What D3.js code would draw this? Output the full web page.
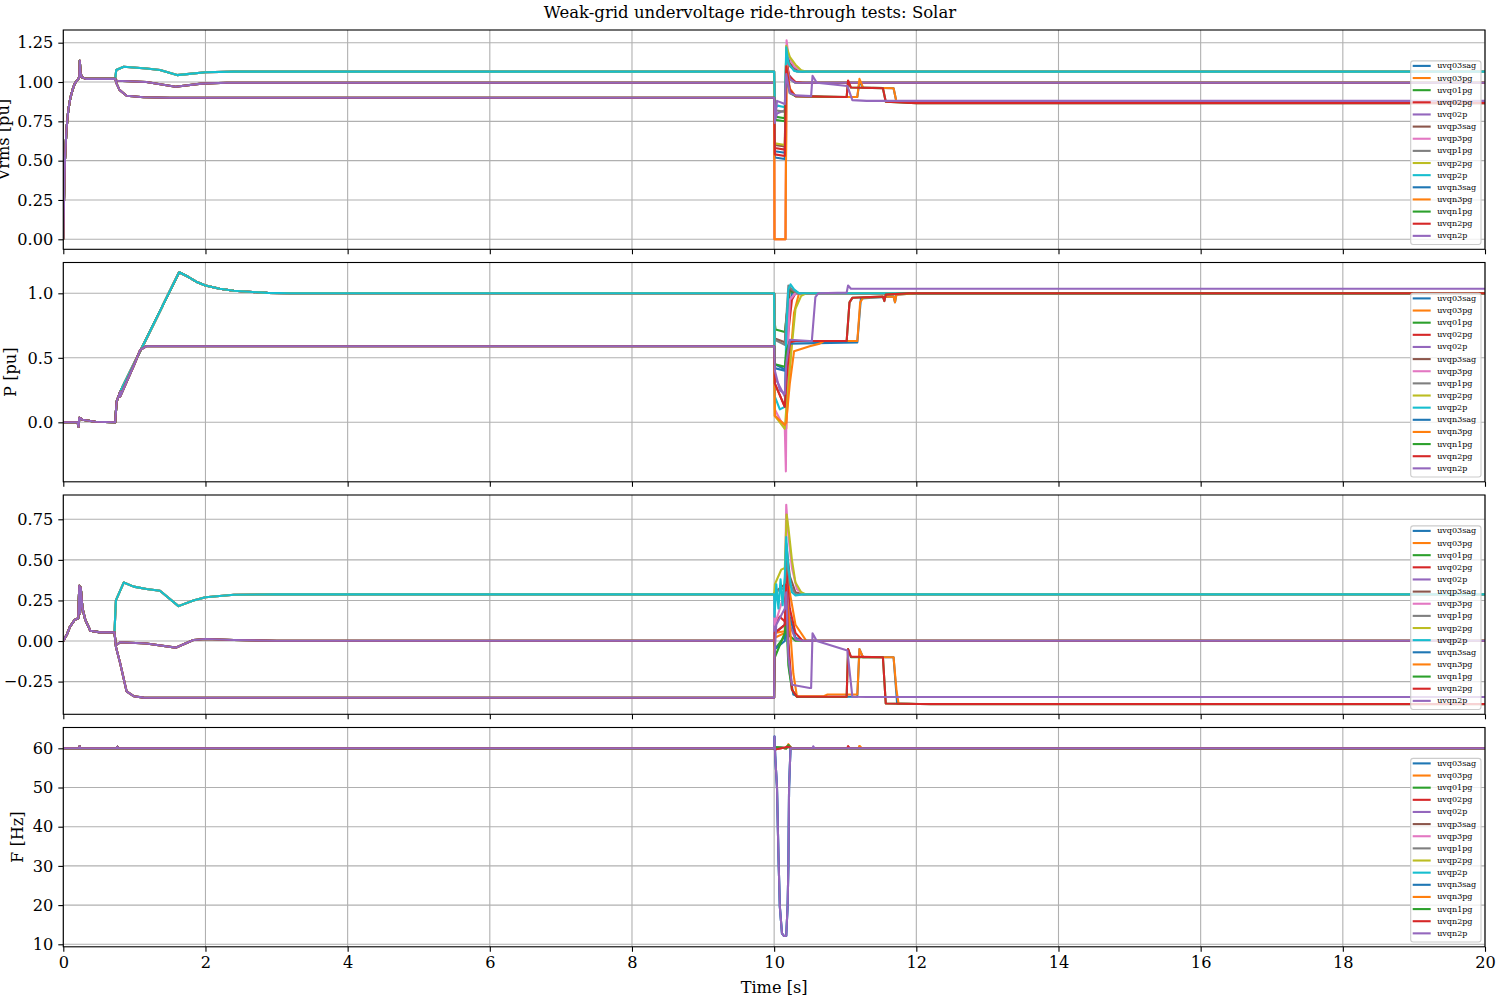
<!DOCTYPE html>
<html><head><meta charset="utf-8">
<script src="https://cdn.jsdelivr.net/npm/d3@7"></script>
<style>
body{margin:0;background:#fff;}
text{font-family:"DejaVu Serif",serif;fill:#000;}
</style>
</head><body>
<svg id="chart" width="1500" height="1000"></svg>
<script>
// ---------------- DATA ----------------
const titleText = "Weak-grid undervoltage ride-through tests: Solar";
const xLabel = "Time [s]";
const yLabels = ["Vrms [pu]", "P [pu]", "", "F [Hz]"];
const seriesNames = ["uvq03sag","uvq03pg","uvq01pg","uvq02pg","uvq02p",
                     "uvqp3sag","uvqp3pg","uvqp1pg","uvqp2pg","uvqp2p",
                     "uvqn3sag","uvqn3pg","uvqn1pg","uvqn2pg","uvqn2p"];
const seriesGroup = [0,0,0,0,0,1,1,1,1,1,2,2,2,2,2];
const xTicks = [0,2,4,6,8,10,12,14,16,18,20];
const vTicks = [0,0.25,0.5,0.75,1.0,1.25];
const pTicks = [0,0.5,1.0];
const qTicks = [-0.25,0,0.25,0.5,0.75];
const fTicks = [10,20,30,40,50,60];

// Vrms [pu] : startup (common), group startup, fault events (t, value)
const vStartCommon = [[0,0],[0.01,0.25],[0.023,0.5],[0.045,0.7],[0.07,0.82],[0.1,0.9],[0.13,0.95],[0.16,0.99],[0.21,1.02],[0.225,1.03],[0.232,1.135],[0.242,1.06],[0.26,1.03],[0.32,1.02],[0.73,1.02]];
const vStartQ0 = [[0.75,1.008],[1.17,1.0],[1.58,0.97],[1.94,0.99],[2.3,0.995]];
const vStartQP = [[0.745,1.076],[0.85,1.097],[1.17,1.086],[1.36,1.076],[1.6,1.044],[1.74,1.05],[2.0,1.062],[2.4,1.066]];
const vStartQN = [[0.75,0.99],[0.79,0.95],[0.89,0.913],[1.13,0.903],[1.5,0.9]];
const vEv0  = [[10,0.995],[10.01,0.56],[10.15,0.55],[10.17,1.12],[10.2,1.05],[10.28,1.0],[10.4,0.995]];
const vEv1  = [[10,0.995],[10.005,0],[10.16,0],[10.175,1.15],[10.2,1.05],[10.23,1.02],[10.3,1.0],[10.45,0.995]];
const vEv2  = [[10,0.995],[10.01,0.78],[10.15,0.77],[10.17,1.1],[10.22,1.02],[10.3,0.995]];
const vEv3  = [[10,0.995],[10.01,0.58],[10.15,0.57],[10.17,1.15],[10.21,1.04],[10.3,1.0],[10.4,0.995]];
const vEv4  = [[10,0.995],[10.01,0.75],[10.04,0.8],[10.15,0.82],[10.17,1.12],[10.22,1.02],[10.3,0.995]];
const vEv5  = [[10,1.066],[10.01,0.6],[10.15,0.59],[10.17,1.2],[10.22,1.12],[10.3,1.08],[10.4,1.066]];
const vEv6  = [[10,1.066],[10.005,0],[10.16,0],[10.175,1.265],[10.2,1.17],[10.28,1.1],[10.4,1.066]];
const vEv7  = [[10,1.066],[10.01,0.82],[10.15,0.81],[10.17,1.18],[10.22,1.1],[10.32,1.066]];
const vEv8  = [[10,1.066],[10.01,0.61],[10.15,0.6],[10.17,1.23],[10.22,1.16],[10.3,1.11],[10.38,1.075],[10.45,1.066]];
const vEv9  = [[10,1.066],[10.01,0.83],[10.05,0.85],[10.15,0.84],[10.17,1.22],[10.2,1.12],[10.28,1.07],[10.35,1.066]];
const vEv10 = [[10,0.9],[10.01,0.52],[10.15,0.51],[10.17,1.08],[10.22,0.95],[10.3,0.91],[10.7,0.905],[11.17,0.905],[11.2,1.0],[11.25,0.965],[11.68,0.96],[11.72,0.875],[12.0,0.868]];
const vEv11 = [[10,0.9],[10.005,0],[10.16,0],[10.175,1.1],[10.22,0.96],[10.3,0.91],[10.7,0.905],[11.17,0.905],[11.2,1.02],[11.25,0.965],[11.68,0.96],[11.72,0.875],[12.2,0.868]];
const vEv12 = [[10,0.9],[10.01,0.76],[10.15,0.75],[10.17,1.05],[10.22,0.93],[10.3,0.91],[11.02,0.905],[11.04,1.0],[11.08,0.965],[11.53,0.96],[11.57,0.875],[12.0,0.866]];
const vEv13 = [[10,0.9],[10.01,0.54],[10.15,0.53],[10.17,1.1],[10.22,0.95],[10.3,0.91],[11.02,0.905],[11.04,1.01],[11.08,0.965],[11.53,0.96],[11.57,0.875],[12.0,0.866]];
const vEv14 = [[10,0.9],[10.01,0.74],[10.04,0.88],[10.15,0.86],[10.17,1.05],[10.22,0.93],[10.3,0.915],[10.52,0.91],[10.54,1.04],[10.6,0.995],[11.03,0.975],[11.1,0.885],[11.3,0.88]];

// P [pu]
const pStartCommon = [[0,0],[0.2,0],[0.215,-0.035],[0.225,0.036],[0.27,0.02],[0.45,0.005],[0.73,0.0],[0.75,0.16],[0.8,0.237]];
const pStartQ0 = [[1.63,1.163],[1.75,1.13],[1.87,1.09],[2.0,1.06],[2.2,1.035],[2.4,1.02],[2.87,1.003],[3.2,1.0]];
const pStartQP = [[1.63,1.163],[1.75,1.13],[1.87,1.09],[2.0,1.06],[2.2,1.035],[2.4,1.02],[2.87,1.003],[3.2,1.0]];
const pStartQN = [[0.8,0.2],[1.0,0.45],[1.08,0.56],[1.17,0.59],[1.5,0.59]];
const pEv0  = [[10,1],[10.01,0.45],[10.15,0.41],[10.17,0.5],[10.22,0.9],[10.26,1.03],[10.35,1.0]];
const pEv1  = [[10,1],[10.01,0.05],[10.15,-0.02],[10.17,-0.05],[10.2,0.3],[10.28,0.85],[10.35,1.0]];
const pEv2  = [[10,1],[10.005,0.78],[10.02,0.72],[10.15,0.7],[10.17,0.8],[10.22,1.02],[10.3,1.0]];
const pEv3  = [[10,1],[10.01,0.3],[10.15,0.12],[10.17,0.4],[10.2,0.7],[10.25,0.95],[10.3,1.0]];
const pEv4  = [[10,1],[10.01,0.35],[10.15,0.2],[10.17,0.5],[10.22,0.95],[10.3,1.0]];
const pEv5  = [[10,1],[10.01,0.65],[10.15,0.62],[10.17,0.8],[10.22,1.04],[10.3,1.0]];
const pEv6  = [[10,1],[10.01,0.1],[10.15,-0.05],[10.165,-0.38],[10.175,0.3],[10.22,0.95],[10.3,1.0]];
const pEv7  = [[10,1],[10.01,0.64],[10.15,0.6],[10.17,0.8],[10.2,1.06],[10.25,1.03],[10.33,1.0]];
const pEv8  = [[10,1],[10.01,0.05],[10.15,-0.05],[10.17,0.1],[10.25,0.6],[10.3,0.88],[10.38,0.98],[10.45,1.0]];
const pEv9  = [[10,1],[10.01,0.2],[10.08,0.1],[10.15,0.12],[10.17,0.7],[10.2,1.03],[10.23,1.07],[10.28,1.03],[10.35,1.0]];
const pEv10 = [[10,0.59],[10.01,0.42],[10.15,0.4],[10.17,0.5],[10.22,0.61],[11.17,0.62],[11.22,0.96],[11.68,0.975],[11.7,0.93],[11.72,0.99],[12.0,1.0]];
const pEv11 = [[10,0.59],[10.01,0.05],[10.15,-0.02],[10.17,0.0],[10.22,0.3],[10.28,0.55],[10.5,0.59],[10.64,0.61],[10.7,0.63],[11.17,0.63],[11.21,0.93],[11.25,0.965],[11.68,0.975],[11.7,0.93],[11.72,0.99],[12.0,1.0]];
const pEv12 = [[10,0.59],[10.01,0.45],[10.15,0.43],[10.17,0.55],[10.22,0.63],[11.02,0.63],[11.06,0.93],[11.1,0.965],[11.53,0.975],[11.55,0.94],[11.57,0.99],[11.9,1.0]];
const pEv13 = [[10,0.59],[10.01,0.3],[10.15,0.12],[10.17,0.3],[10.22,0.62],[10.3,0.63],[11.02,0.63],[11.06,0.93],[11.1,0.965],[11.53,0.975],[11.55,0.94],[11.57,0.99],[11.9,1.0]];
const pEv14 = [[10,0.59],[10.01,0.4],[10.08,0.25],[10.15,0.22],[10.17,0.45],[10.22,0.64],[10.5,0.63],[10.53,0.63],[10.58,0.97],[10.62,1.0],[11.02,1.005],[11.04,1.06],[11.08,1.035],[11.3,1.035]];

// Q [pu]
const qStartCommon = [[0,0],[0.05,0.04],[0.094,0.088],[0.16,0.13],[0.21,0.14],[0.225,0.34],[0.235,0.17],[0.245,0.33],[0.27,0.2],[0.31,0.13],[0.38,0.063],[0.52,0.053],[0.72,0.053]];
const qStartQ0 = [[0.74,-0.025],[0.8,-0.008],[1.17,-0.015],[1.58,-0.041],[1.83,0.006],[2.0,0.012],[2.4,0.006],[3.0,0.002]];
const qStartQP = [[0.74,0.25],[0.85,0.36],[0.99,0.335],[1.17,0.32],[1.36,0.31],[1.62,0.215],[1.83,0.25],[2.0,0.27],[2.4,0.285],[3.0,0.2875]];
const qStartQN = [[0.74,-0.035],[0.8,-0.137],[0.89,-0.31],[0.99,-0.34],[1.13,-0.349],[1.5,-0.35]];
const qEv0  = [[10,0.002],[10.01,0.05],[10.15,0.1],[10.17,0.4],[10.22,0.15],[10.3,0.02],[10.4,0.002]];
const qEv1  = [[10,0.002],[10.01,0.02],[10.15,0.05],[10.17,0.55],[10.22,0.3],[10.3,0.1],[10.45,0.002]];
const qEv2  = [[10,0.002],[10.01,-0.05],[10.15,0.03],[10.17,0.15],[10.22,0.03],[10.3,0.002]];
const qEv3  = [[10,0.002],[10.01,0.1],[10.08,0.15],[10.15,0.12],[10.17,0.45],[10.22,0.2],[10.3,0.05],[10.4,0.002]];
const qEv4  = [[10,0.002],[10.005,0.2],[10.02,0.05],[10.15,0.1],[10.17,0.35],[10.22,0.1],[10.3,0.01],[10.4,0.002]];
const qEv5  = [[10,0.2875],[10.01,0.3],[10.15,0.35],[10.17,0.6],[10.22,0.4],[10.3,0.3],[10.4,0.2875]];
const qEv6  = [[10,0.2875],[10.01,0.1],[10.15,0.3],[10.17,0.84],[10.2,0.65],[10.25,0.45],[10.32,0.32],[10.42,0.2875]];
const qEv7  = [[10,0.2875],[10.01,0.3],[10.15,0.33],[10.17,0.55],[10.22,0.35],[10.3,0.2875]];
const qEv8  = [[10,0.2875],[10.01,0.35],[10.1,0.44],[10.15,0.45],[10.175,0.78],[10.2,0.7],[10.25,0.5],[10.3,0.36],[10.38,0.3],[10.45,0.2875]];
const qEv9  = [[10,0.2875],[10.005,0.15],[10.03,0.35],[10.06,0.2],[10.09,0.38],[10.12,0.22],[10.15,0.4],[10.17,0.64],[10.2,0.45],[10.25,0.3],[10.3,0.28],[10.4,0.2875]];
const qEv10 = [[10,-0.35],[10.01,-0.05],[10.15,0.0],[10.17,0.2],[10.22,-0.2],[10.27,-0.33],[10.35,-0.343],[11.17,-0.343],[11.2,-0.05],[11.25,-0.1],[11.68,-0.1],[11.73,-0.385],[12.2,-0.39]];
const qEv11 = [[10,-0.35],[10.01,0.05],[10.15,0.06],[10.17,0.3],[10.22,0.1],[10.27,-0.2],[10.32,-0.34],[10.7,-0.34],[10.75,-0.33],[11.17,-0.33],[11.2,-0.05],[11.25,-0.1],[11.68,-0.1],[11.72,-0.3],[11.75,-0.385],[12.2,-0.39]];
const qEv12 = [[10,-0.35],[10.01,-0.1],[10.15,0.05],[10.17,0.15],[10.2,-0.15],[10.25,-0.3],[10.32,-0.345],[11.02,-0.345],[11.04,-0.05],[11.08,-0.1],[11.53,-0.1],[11.57,-0.385],[12.0,-0.388]];
const qEv13 = [[10,-0.35],[10.01,0.05],[10.15,0.1],[10.17,0.35],[10.2,0.0],[10.25,-0.3],[10.32,-0.343],[11.02,-0.343],[11.04,-0.05],[11.08,-0.096],[11.53,-0.1],[11.57,-0.385],[12.0,-0.388]];
const qEv14 = [[10,-0.35],[10.005,-0.1],[10.03,0.1],[10.15,0.2],[10.17,0.3],[10.2,-0.1],[10.25,-0.27],[10.5,-0.29],[10.52,-0.29],[10.54,0.047],[10.6,0.0],[11.03,-0.058],[11.1,-0.343],[11.3,-0.345]];

// F [Hz]
const fStartCommon = [[0,60],[0.22,60],[0.23,60.5],[0.24,60],[0.75,60],[0.76,60.4],[0.77,60]];
const fEvSmall = [[10,60],[10.005,60.3],[10.17,60],[10.2,60.8],[10.24,60]];
const fEvDip   = [[10,60],[10.005,63],[10.015,58],[10.04,50],[10.06,33],[10.08,19.6],[10.11,12.8],[10.14,12.1],[10.17,12.2],[10.19,20],[10.2,30],[10.21,50],[10.23,60]];
const fEvRed   = [[10,60],[10.01,59.7],[10.15,60.2],[10.2,60.4],[10.25,60],[11.03,60],[11.04,60.5],[11.06,60]];
const fEvOrange= [[10,60],[10.01,60.2],[10.17,60],[10.2,61],[10.24,60],[11.19,60],[11.2,60.6],[11.23,60]];
const fEvPurple= [[10,60],[10.005,63],[10.015,58],[10.04,50],[10.06,33],[10.08,19.6],[10.11,12.8],[10.14,12.1],[10.17,12.2],[10.19,20],[10.2,30],[10.21,50],[10.23,60],[10.54,60],[10.55,60.5],[10.57,60]];

// ---------------- BUILD ----------------
const palette = ["#1f77b4","#ff7f0e","#2ca02c","#d62728","#9467bd","#8c564b","#e377c2","#7f7f7f","#bcbd22","#17becf"];
const vEvents = [vEv0,vEv1,vEv2,vEv3,vEv4,vEv5,vEv6,vEv7,vEv8,vEv9,vEv10,vEv11,vEv12,vEv13,vEv14];
const pEvents = [pEv0,pEv1,pEv2,pEv3,pEv4,pEv5,pEv6,pEv7,pEv8,pEv9,pEv10,pEv11,pEv12,pEv13,pEv14];
const qEvents = [qEv0,qEv1,qEv2,qEv3,qEv4,qEv5,qEv6,qEv7,qEv8,qEv9,qEv10,qEv11,qEv12,qEv13,qEv14];
const fEvents = [fEvDip,fEvOrange,fEvSmall,fEvRed,fEvSmall,fEvSmall,fEvSmall,fEvSmall,fEvSmall,fEvSmall,fEvDip,fEvOrange,fEvSmall,fEvRed,fEvPurple];

function build(common, groupStarts, events, i) {
  const g = groupStarts ? groupStarts[seriesGroup[i]] : [];
  const pts = common.concat(g, events[i]);
  pts.push([20, pts[pts.length - 1][1]]);
  return pts;
}

const panels = [
  {series: seriesNames.map((_, i) => build(vStartCommon, [vStartQ0, vStartQP, vStartQN], vEvents, i)),
   domain: [-0.0636, 1.3307], ticks: vTicks, fmt: d3.format(".2f"), label: yLabels[0], labelX: 3.5},
  {series: seriesNames.map((_, i) => build(pStartCommon, [pStartQ0, pStartQP, pStartQN], pEvents, i)),
   domain: [-0.461, 1.2388], ticks: pTicks, fmt: d3.format(".1f"), label: yLabels[1], labelX: 10.5},
  {series: seriesNames.map((_, i) => build(qStartCommon, [qStartQ0, qStartQP, qStartQN], qEvents, i)),
   domain: [-0.4516, 0.8997], ticks: qTicks, fmt: d3.format(".2f"), label: yLabels[2], labelX: 10},
  {series: seriesNames.map((_, i) => build(fStartCommon, null, fEvents, i)),
   domain: [9.36, 65.31], ticks: fTicks, fmt: d3.format("d"), label: yLabels[3], labelX: 17}
];

// ---------------- DRAW ----------------
const svg = d3.select("#chart");
const left = 63.3, right = 1485;
const tops = [30, 262.5, 495, 727.5];
const panelH = 219.3;
const fs = "16.2px";
const x = d3.scaleLinear().domain([0, 20]).range([left, right]);

svg.append("text").attr("x", 750).attr("y", 17.5).attr("text-anchor", "middle")
  .style("font-size", "16.5px").text(titleText);

panels.forEach((pn, k) => {
  const top = tops[k], bottom = top + panelH;
  const y = d3.scaleLinear().domain(pn.domain).range([bottom, top]);
  const g = svg.append("g");
  const clipId = "clip" + k;
  svg.append("clipPath").attr("id", clipId).append("rect")
    .attr("x", left).attr("y", top).attr("width", right - left).attr("height", panelH);

  // grid
  g.append("g").selectAll("line").data(xTicks).join("line")
    .attr("x1", d => x(d)).attr("x2", d => x(d)).attr("y1", top).attr("y2", bottom)
    .attr("stroke", "#b0b0b0").attr("stroke-width", 1.1);
  g.append("g").selectAll("line").data(pn.ticks).join("line")
    .attr("x1", left).attr("x2", right).attr("y1", d => y(d)).attr("y2", d => y(d))
    .attr("stroke", "#b0b0b0").attr("stroke-width", 1.1);

  // lines
  const line = d3.line().x(d => x(d[0])).y(d => y(d[1]));
  g.append("g").attr("clip-path", `url(#${clipId})`).selectAll("path").data(pn.series).join("path")
    .attr("d", line).attr("fill", "none")
    .attr("stroke", (d, i) => palette[i % 10]).attr("stroke-width", 2.1)
    .attr("stroke-linejoin", "round").attr("stroke-linecap", "butt");

  // axes
  const ya = d3.axisLeft(y).tickValues(pn.ticks).tickFormat(pn.fmt).tickSize(5).tickPadding(5);
  const yg = g.append("g").attr("transform", `translate(${left},0)`).call(ya);
  yg.select(".domain").remove();
  yg.selectAll("text").style("font-size", fs).style("font-family", '"DejaVu Serif",serif');
  yg.selectAll("line").attr("stroke", "#000").attr("stroke-width", 1.1);

  const xa = d3.axisBottom(x).tickValues(xTicks).tickFormat(k === 3 ? d3.format("d") : () => "").tickSize(5).tickPadding(5);
  const xg = g.append("g").attr("transform", `translate(0,${bottom})`).call(xa);
  xg.select(".domain").remove();
  xg.selectAll("text").style("font-size", fs).style("font-family", '"DejaVu Serif",serif');
  xg.selectAll("line").attr("stroke", "#000").attr("stroke-width", 1.1);

  // frame
  g.append("rect").attr("x", left).attr("y", top).attr("width", right - left).attr("height", panelH)
    .attr("fill", "none").attr("stroke", "#000").attr("stroke-width", 1.1);

  // y label
  if (pn.label) {
    g.append("text").attr("transform", `translate(${pn.labelX},${(top + bottom) / 2}) rotate(-90)`)
      .attr("text-anchor", "middle").attr("dominant-baseline", "central")
      .style("font-size", fs).text(pn.label);
  }

  // legend
  const lgW = 70.3, lgH = 183.6, lgX = 1410.7, lgY = bottom - 4.8 - lgH;
  const lg = g.append("g");
  lg.append("rect").attr("x", lgX).attr("y", lgY).attr("width", lgW).attr("height", lgH)
    .attr("rx", 2.5).attr("fill", "#fff").attr("fill-opacity", 0.8)
    .attr("stroke", "#cccccc").attr("stroke-width", 1.1);
  const items = lg.selectAll("g.it").data(seriesNames).join("g")
    .attr("transform", (d, i) => `translate(0,${lgY + 5 + i * 12.14})`);
  items.append("line").attr("x1", lgX + 2).attr("x2", lgX + 20).attr("y1", 0).attr("y2", 0)
    .attr("stroke", (d, i) => palette[i % 10]).attr("stroke-width", 2.1);
  items.append("text").attr("x", lgX + 26.5).attr("y", 0).attr("dominant-baseline", "central")
    .style("font-size", "8px").text(d => d);
});

svg.append("text").attr("x", (left + right) / 2).attr("y", 987).attr("text-anchor", "middle")
  .attr("dominant-baseline", "central").style("font-size", fs).text(xLabel);
</script>
</body></html>
